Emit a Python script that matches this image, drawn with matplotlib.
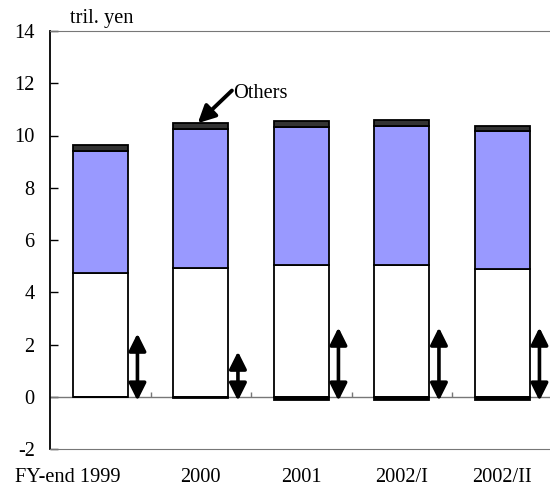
import numpy as np
import matplotlib
matplotlib.use("Agg")
import matplotlib.pyplot as plt
from matplotlib.transforms import ScaledTranslation

plt.rcParams['font.family'] = ['Liberation Serif', 'DejaVu Serif']

categories = ["FY-end 1999", "2000", "2001", "2002/I", "2002/II"]
base_vals = [4.72, 4.93, 5.05, 5.05, 4.90]
blue_vals = [4.68, 5.32, 5.27, 5.31, 5.26]
others_vals = [0.24, 0.22, 0.24, 0.25, 0.20]
neg_vals = [0.0, -0.03, -0.12, -0.12, -0.12]
range_tops = [2.42, 1.73, 2.65, 2.65, 2.65]
range_bottom = -0.15
yticks = [-2, 0, 2, 4, 6, 8, 10, 12, 14]

FS = 14.7

fig = plt.figure(figsize=(5.5, 4.92), dpi=100)
ax = fig.add_axes([50 / 550, 1 - 449 / 492, 500 / 550, (449 - 31) / 492])

x = np.arange(len(categories))
w = 0.55
base = np.array(base_vals)
blue = np.array(blue_vals)
oth = np.array(others_vals)

ax.bar(x, base, w, color="white", edgecolor="black", linewidth=1.3, zorder=3)
ax.bar(x, blue, w, bottom=base, color="#9999FF", edgecolor="black", linewidth=1.3, zorder=3)
ax.bar(x, oth, w, bottom=base + blue, color="#333333", edgecolor="black", linewidth=1.3, zorder=3)
ax.bar(x, neg_vals, w, color="black", edgecolor="black", linewidth=1.3, zorder=3)

# double-headed range arrows beside each bar
for xi, top in zip(x, range_tops):
    ax.annotate("", xy=(xi + 0.37, top), xytext=(xi + 0.37, range_bottom),
                arrowprops=dict(arrowstyle="<|-|>,head_length=0.8,head_width=0.4",
                                color="black", lw=2.6,
                                mutation_scale=13, shrinkA=0, shrinkB=0),
                zorder=4)

# zero line with small category separators
ax.axhline(0, color="#777777", lw=1, zorder=2)
bounds = np.arange(len(categories) - 1) + 0.5
ax.vlines(bounds, 0, 0.17, color="#777777", lw=1, zorder=2)

ax.set_xlim(-0.5, len(categories) - 0.5 - 0.025)
ax.set_ylim(-2, 14)
ax.set_yticks(yticks)
ax.set_yticklabels([str(v) for v in yticks], fontsize=FS)
ax.tick_params(axis="y", direction="in", length=6, width=1, color="black", pad=11)

ax.set_xticks(x)
ax.set_xticklabels(categories, fontsize=FS)
ax.tick_params(axis="x", length=0, pad=14)
lbl0 = ax.get_xticklabels()[0]
lbl0.set_transform(lbl0.get_transform() + ScaledTranslation(-0.33, 0, fig.dpi_scale_trans))

ax.spines["right"].set_visible(False)
ax.spines["left"].set_color("black")
ax.spines["left"].set_linewidth(1.3)
ax.spines["top"].set_color("#777777")
ax.spines["bottom"].set_color("#777777")

# "Others" label with a pointer to the top segment of the second bar
others_top = base[1] + blue[1] + oth[1]
ax.annotate("", xy=(0.97, others_top), xytext=(1.31, 11.72),
            arrowprops=dict(arrowstyle="-|>,head_length=0.8,head_width=0.4",
                            color="black", lw=2.8,
                            mutation_scale=13, shrinkA=0, shrinkB=0),
            zorder=5)
ax.text(1.32, 11.6, "Others", fontsize=FS, va="center", ha="left", zorder=5)

fig.text(70 / 550, 1 - 19 / 492, "tril. yen", fontsize=FS, ha="left", va="center")

fig.savefig("out.png", dpi=100)
